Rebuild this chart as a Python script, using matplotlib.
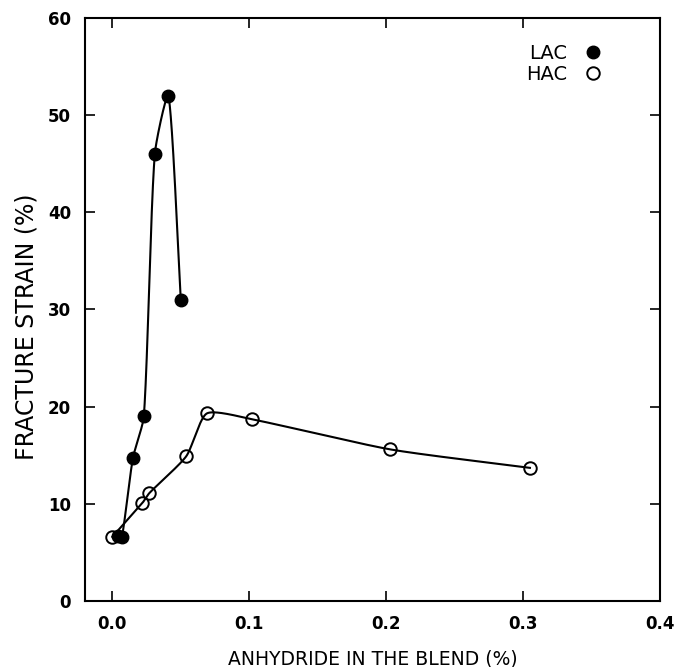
import numpy as np
import matplotlib.pyplot as plt

# ---------------- data ----------------
lac_x = [0.004, 0.007, 0.015, 0.023, 0.031, 0.041, 0.050]
lac_y = [6.7, 6.6, 14.7, 19.0, 46.0, 52.0, 31.0]

hac_x = [0.000, 0.022, 0.027, 0.054, 0.069, 0.102, 0.203, 0.305]
hac_y = [6.6, 10.1, 11.1, 14.9, 19.3, 18.7, 15.6, 13.7]

x_ticks = [0.0, 0.1, 0.2, 0.3, 0.4]
y_ticks = [0, 10, 20, 30, 40, 50, 60]

XLIM = (-0.02, 0.4)
YLIM = (0, 60)


def smooth(x, y, tension=0.35, n=60):
    # cardinal spline, chord-length parametrised, in axes-normalised space
    sx = XLIM[1] - XLIM[0]
    sy = YLIM[1] - YLIM[0]
    P = np.column_stack([np.asarray(x) / sx, np.asarray(y) / sy])
    d = np.linalg.norm(np.diff(P, axis=0), axis=1)
    M = np.zeros_like(P)
    for k in range(1, len(P) - 1):
        M[k] = (1 - tension) * (P[k + 1] - P[k - 1]) / (d[k - 1] + d[k])
    M[0] = (1 - tension) * (P[1] - P[0]) / d[0]
    M[-1] = (1 - tension) * (P[-1] - P[-2]) / d[-1]
    u = np.linspace(0, 1, n)[:, None]
    h00 = 2 * u**3 - 3 * u**2 + 1
    h10 = u**3 - 2 * u**2 + u
    h01 = -2 * u**3 + 3 * u**2
    h11 = u**3 - u**2
    out = []
    for k in range(len(P) - 1):
        out.append(h00 * P[k] + h10 * d[k] * M[k] + h01 * P[k + 1] + h11 * d[k] * M[k + 1])
    c = np.vstack(out)
    return c[:, 0] * sx, c[:, 1] * sy


fig = plt.figure(figsize=(6.76, 6.67), dpi=100)
ax = fig.add_axes([0.1257, 0.099, 0.8506, 0.874])

lx, ly = smooth(lac_x, lac_y)
hx, hy = smooth(hac_x, hac_y)
ax.plot(lx, ly, color="black", lw=1.5, zorder=2)
ax.plot(hx, hy, color="black", lw=1.5, zorder=2)

ax.plot(lac_x, lac_y, "o", ms=9, color="black", zorder=3, label="LAC")
ax.plot(hac_x, hac_y, "o", ms=9, mfc="none", mec="black", mew=1.4,
        zorder=3, label="HAC")

ax.set_xlim(*XLIM)
ax.set_ylim(*YLIM)
ax.set_xticks(x_ticks)
ax.set_xticklabels([f"{v:.1f}" for v in x_ticks])
ax.set_yticks(y_ticks)

ax.tick_params(direction="in", length=7, width=1.2, top=True, right=True,
               labelsize=12, pad=10)
for lab in ax.get_xticklabels() + ax.get_yticklabels():
    lab.set_fontweight("bold")
for s in ax.spines.values():
    s.set_linewidth(1.5)

ax.set_xlabel("ANHYDRIDE IN THE BLEND (%)", fontsize=13.5, labelpad=12)
ax.set_ylabel("FRACTURE STRAIN (%)", fontsize=17)
ax.yaxis.set_label_coords(-0.08, 0.47)

leg = ax.legend(loc="upper right", bbox_to_anchor=(0.93, 0.985), frameon=False,
                markerfirst=False, fontsize=14, handlelength=1.0,
                handletextpad=0.8, labelspacing=0.1, alignment="right")
for h in leg.legend_handles:
    h.set_markersize(9)

fig.savefig("out.png", dpi=100)
